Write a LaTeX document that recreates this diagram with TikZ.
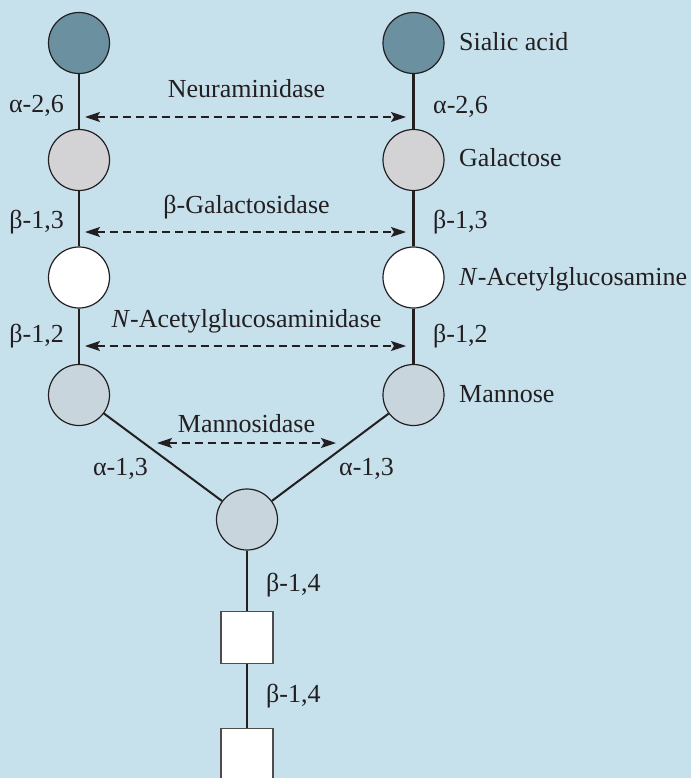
\documentclass[tikz,border=0pt]{standalone}
\usepackage{fontspec}
\setmainfont{Liberation Serif}
\usetikzlibrary{arrows.meta}

\definecolor{bgblue}{RGB}{198,224,236}
\definecolor{ink}{RGB}{35,31,32}
\definecolor{sialic}{RGB}{107,144,160}
\definecolor{galac}{RGB}{211,211,213}
\definecolor{manno}{RGB}{200,213,221}

\tikzset{
  sugar/.style={circle, draw=ink, line width=1.2pt, minimum size=61pt, inner sep=0pt},
  sia/.style={sugar, fill=sialic},
  gal/.style={sugar, fill=galac},
  glc/.style={sugar, fill=white},
  man/.style={sugar, fill=manno},
  nag/.style={rectangle, draw=ink!80, line width=1.3pt, fill=white, minimum size=52pt, inner sep=0pt},
  bond/.style={draw=ink, line width=2.6pt},
  branch/.style={draw=ink, line width=2pt},
  enzyme/.style={draw=ink, line width=1.4pt, dash pattern=on 8pt off 5pt,
    {Stealth[length=15pt,width=10pt,inset=3pt]}-{Stealth[length=15pt,width=10pt,inset=3pt]}},
  txt/.style={inner sep=0pt, text=ink}
}

\begin{document}
\begin{tikzpicture}[x=1pt, y=-1pt, font=\fontsize{26}{31}\selectfont]
  \fill[bgblue] (0,0) rectangle (691,778);
  \useasboundingbox (0,0) rectangle (691,778);

  % left antenna
  \node[sia] (L1) at (79,43) {};
  \node[gal] (L2) at (79,160) {};
  \node[glc] (L3) at (79,277.5) {};
  \node[man] (L4) at (79,395) {};
  % right antenna
  \node[sia] (R1) at (413.5,43) {};
  \node[gal] (R2) at (413.5,160) {};
  \node[glc] (R3) at (413.5,277.5) {};
  \node[man] (R4) at (413.5,395) {};
  % core
  \node[man] (M) at (247,519.5) {};
  \node[nag] (S1) at (247,637.5) {};
  \node[nag] (S2) at (247,754.5) {};

  % glycosidic bonds
  \draw[bond] (L1) -- (L2);
  \draw[bond] (L2) -- (L3);
  \draw[bond] (L3) -- (L4);
  \draw[bond] (R1) -- (R2);
  \draw[bond] (R2) -- (R3);
  \draw[bond] (R3) -- (R4);
  \draw[branch] (L4) -- (M);
  \draw[branch] (R4) -- (M);
  \draw[bond] (M) -- (S1);
  \draw[bond] (S1) -- (S2);

  % enzyme arrows
  \coordinate (e1l) at (85,117);   \coordinate (e1r) at (406,117);
  \coordinate (e2l) at (85,232);   \coordinate (e2r) at (406,232);
  \coordinate (e3l) at (85,346);   \coordinate (e3r) at (406,346);
  \coordinate (e4l) at (157,443);  \coordinate (e4r) at (336,443);
  \draw[enzyme] (e1l) -- (e1r);
  \draw[enzyme] (e2l) -- (e2r);
  \draw[enzyme] (e3l) -- (e3r);
  \draw[enzyme] (e4l) -- (e4r);

  \node[txt, anchor=base] (n1) at (246.5,98) {Neuraminidase};
  \node[txt, anchor=base] (n2) at (246.5,213) {β-Galactosidase};
  \node[txt, anchor=base] (n3) at (246.5,327) {\textit{N}-Acetylglucosaminidase};
  \node[txt, anchor=base] (n4) at (246.5,432) {Mannosidase};

  % linkage labels
  \node[txt, anchor=base east] (a1) at (64,113) {α-2,6};
  \node[txt, anchor=base west] (a2) at (433,114) {α-2,6};
  \node[txt, anchor=base east] (b1) at (64,228) {β-1,3};
  \node[txt, anchor=base west] (b2) at (433,228) {β-1,3};
  \node[txt, anchor=base east] (c1) at (64,342) {β-1,2};
  \node[txt, anchor=base west] (c2) at (433,342) {β-1,2};
  \node[txt, anchor=base east] (d1) at (148,475) {α-1,3};
  \node[txt, anchor=base west] (d2) at (339,475) {α-1,3};
  \node[txt, anchor=base west] (f1) at (266,591) {β-1,4};
  \node[txt, anchor=base west] (f2) at (266,702) {β-1,4};

  % residue names
  \node[txt, anchor=base west] (t1) at (459,51) {Sialic acid};
  \node[txt, anchor=base west] (t2) at (459,167) {Galactose};
  \node[txt, anchor=base west] (t3) at (459,285) {\textit{N}-Acetylglucosamine};
  \node[txt, anchor=base west] (t4) at (459,402) {Mannose};
\end{tikzpicture}
\end{document}
